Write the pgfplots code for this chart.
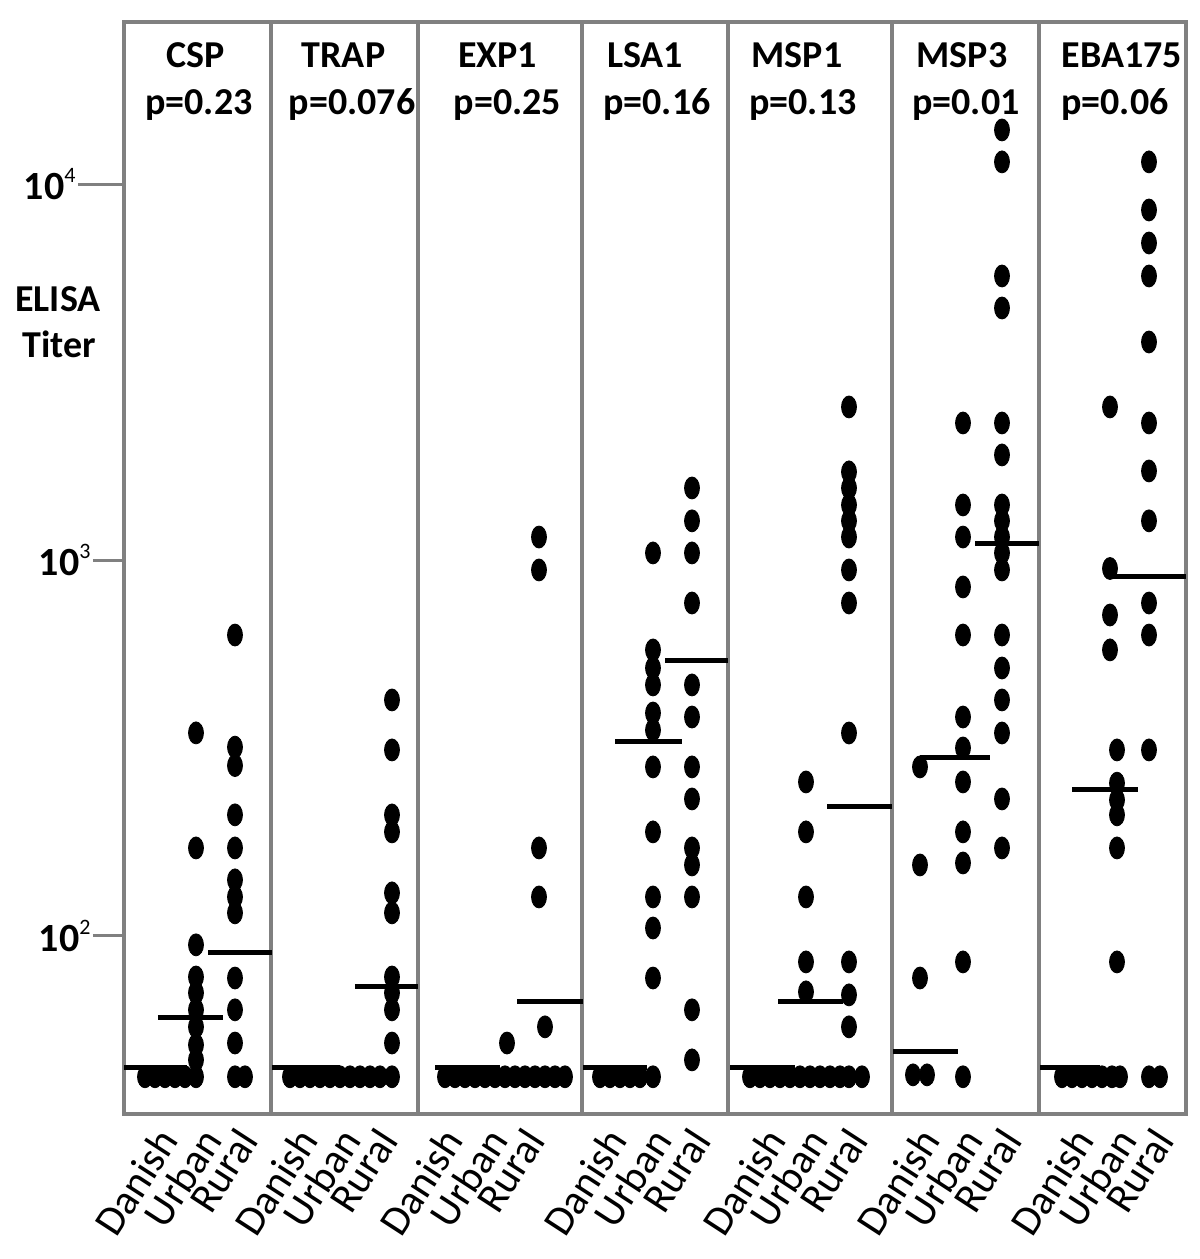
\documentclass[border=0pt]{standalone}
\usepackage{fontspec}
\setmainfont{Carlito}
\usepackage{pgfplots}
\pgfplotsset{compat=1.18}
\definecolor{framegray}{RGB}{128,128,128}
\newcommand\tl[1]{\textbf{10}\raisebox{0.42em}{\fontsize{11}{11}\selectfont #1}}
\pgfplotsset{
  dots/.style={only marks, mark=*, mark size=5.5pt, black,
    mark options={xscale=0.68, draw=none, fill=black}},
  med/.style={black, line width=2.5pt, no marks},
}
\begin{document}
\begin{tikzpicture}
\begin{axis}[
  at={(0,0)}, anchor=south west,
  width=531pt, height=546pt, scale only axis,
  xmin=124, xmax=1186,
  ymode=log, ymin=33.6, ymax=27030,
  axis line style={framegray, line width=2pt},
  clip=false,
  tick align=inside,
  yminorticks=false,
  ytick pos=left,
  ytick={100,1000}, yticklabels={\tl{2},\tl{3}},
  major tick length=15.5pt,
  ytick style={framegray, line width=1.5pt, xshift=-15.5pt},
  yticklabel style={font=\fontsize{20}{20}\selectfont, inner sep=1pt, xshift=-15.5pt},
  extra y ticks={10000}, extra y tick labels={\tl{4}},
  extra y tick style={major tick length=23pt,
    ytick style={framegray, line width=1.5pt, xshift=-7.5pt},
    yticklabel style={xshift=-7.5pt}},
  xtick={155,199,235,295,338,375,440,485,522,604,649,688,763,805,845,917,960,999,1071,1114,1151},
  xticklabels={Danish,Urban,Rural,Danish,Urban,Rural,Danish,Urban,Rural,Danish,Urban,Rural,Danish,Urban,Rural,Danish,Urban,Rural,Danish,Urban,Rural},
  xtick style={draw=none},
  xticklabel style={font=\fontsize{21}{21}\selectfont, yshift=-5.5pt, rotate=57, anchor=north east, inner sep=0pt},
  extra x ticks={271,418,582,728,892,1039}, extra x tick labels={},
  extra x tick style={grid=major, major grid style={framegray, line width=2pt}, xtick style={draw=none}},
]
% CSP
\addplot[dots] table {
x y
145 42.2
155 42.2
165 42.2
175 42.2
185 42.2
196 42.2
196 46.8
196 51.3
196 57.3
196 63.6
196 70.6
196 77.8
196 94.7
196 171.5
196 347
235 42.2
245 42.2
235 51.9
235 63.6
235 77.3
235 115.2
235 127
235 141
235 171.5
235 210
235 284
235 318
235 632
};
\addplot[med] coordinates {(124,44.6) (187,44.6)};
\addplot[med] coordinates {(158,60.5) (223,60.5)};
\addplot[med] coordinates {(208,90.1) (272,90.1)};
% TRAP
\addplot[dots] table {
x y
290 42.2
300 42.2
310 42.2
320 42.2
330 42.2
340 42.2
350 42.2
360 42.2
370 42.2
380 42.2
392 42.2
392 51.9
392 63.6
392 70.6
392 77.8
392 115.2
392 130.2
392 189.2
392 209.9
392 312.6
392 424.6
};
\addplot[med] coordinates {(272,44.6) (340,44.6)};
\addplot[med] coordinates {(355,73.2) (418,73.2)};
% EXP1
\addplot[dots] table {
x y
445 42.2
455 42.2
465 42.2
475 42.2
485 42.2
495 42.2
505 42.2
515 42.2
525 42.2
535 42.2
545 42.2
555 42.2
565 42.2
507 51.9
545 57.3
539 127
539 171.5
539 941.5
539 1152
};
\addplot[med] coordinates {(435,44.6) (500,44.6)};
\addplot[med] coordinates {(517,66.8) (583,66.8)};
% LSA1
\addplot[dots] table {
x y
600 42.2
610 42.2
620 42.2
630 42.2
640 42.2
653 42.2
653 77.3
653 105
653 127
653 189.2
653 281.7
653 353
653 392
653 465.5
653 516.4
653 576.8
653 1045
692 46.8
692 63.6
692 127
692 154.5
692 171.5
692 231.5
692 281.7
692 382.5
692 465.5
692 769.2
692 1045
692 1272
692 1556
};
\addplot[med] coordinates {(583,44.6) (647,44.6)};
\addplot[med] coordinates {(615,330) (682,330)};
\addplot[med] coordinates {(665,542) (728,542)};
% MSP1
\addplot[dots] table {
x y
750 42.2
760 42.2
770 42.2
780 42.2
790 42.2
800 42.2
810 42.2
820 42.2
830 42.2
840 42.2
849 42.2
862 42.2
806 71
806 85.3
806 127
806 189.2
806 256.9
849 57.3
849 69.7
849 85.3
849 346.8
849 769.2
849 941.5
849 1152
849 1272
849 1402
849 1556
849 1717
849 2556
};
\addplot[med] coordinates {(730,44.6) (795,44.6)};
\addplot[med] coordinates {(778,66.8) (843,66.8)};
\addplot[med] coordinates {(827,220.4) (892,220.4)};
% MSP3
\addplot[dots] table {
x y
913 42.7
927 42.7
920 77.3
920 154.5
920 281.7
963 42.2
963 85.3
963 156.4
963 189.2
963 256.9
963 316.4
963 382.5
963 632.1
963 848.4
963 1152
963 1402
963 2317
1002 171.5
1002 231.5
1002 346.8
1002 424.6
1002 516.4
1002 632.1
1002 941.5
1002 1045
1002 1152
1002 1272
1002 1402
1002 1905
1002 2317
1002 4687
1002 5702
1002 11470
1002 13950
};
\addplot[med] coordinates {(893,49.2) (958,49.2)};
\addplot[med] coordinates {(920,297.6) (990,297.6)};
\addplot[med] coordinates {(975,1104) (1039,1104)};
% EBA175
\addplot[dots] table {
x y
1062 42.2
1072 42.2
1082 42.2
1092 42.2
1102 42.2
1112 42.2
1120 42.2
1149 42.2
1160 42.2
1110 577
1110 714.5
1110 950
1110 2556
1117 85.3
1117 171.5
1117 210
1117 230
1117 255
1117 312.6
1149 312.6
1149 632
1149 769
1149 1272
1149 1727
1149 2317
1149 3806
1149 5702
1149 6980
1149 8543
1149 11470
};
\addplot[med] coordinates {(1040,44.6) (1100,44.6)};
\addplot[med] coordinates {(1072,244.6) (1138,244.6)};
\addplot[med] coordinates {(1110,902) (1186,902)};
\end{axis}
\begin{scope}[x=0.5pt, y=-0.5pt, shift={(-62pt,557pt)},
  every node/.style={font=\fontsize{19}{19}\selectfont\bfseries, anchor=base, inner sep=0pt}]
\node at (195.5,68) {CSP};
\node at (199,115) {p=0.23};
\node at (343.5,68) {TRAP};
\node at (352,115) {p=0.076};
\node at (497.5,68) {EXP1};
\node at (507.5,115) {p=0.25};
\node at (645,68) {LSA1};
\node at (657,115) {p=0.16};
\node at (797,68) {MSP1};
\node at (803,115) {p=0.13};
\node at (962,68) {MSP3};
\node at (966,115) {p=0.01};
\node at (1122,68) {EBA175};
\node at (1115,115) {p=0.06};
\node at (58,312) {ELISA};
\node at (59,358) {Titer};
\end{scope}
\pgfresetboundingbox
\path[use as bounding box] (-62pt,-72.5pt) rectangle (538pt,557pt);
\end{tikzpicture}
\end{document}
